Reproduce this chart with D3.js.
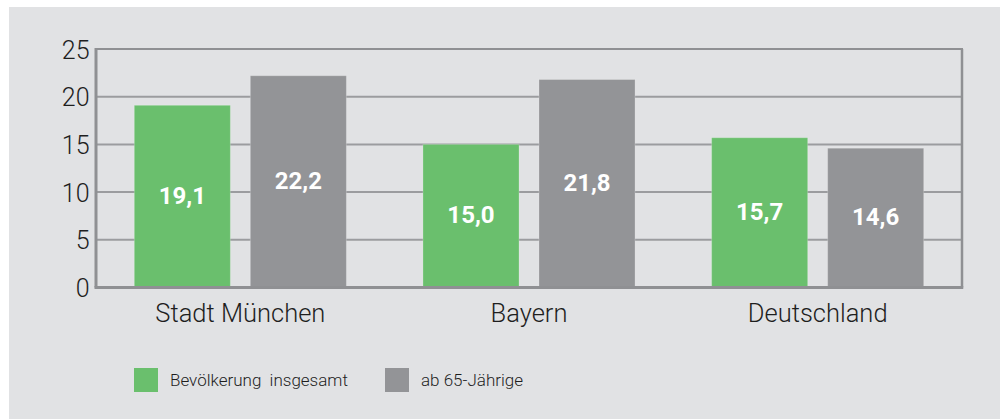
<!DOCTYPE html>
<html>
<head>
<meta charset="utf-8">
<script src="https://cdn.jsdelivr.net/npm/d3@7"></script>
<style>
  html, body { margin: 0; padding: 0; background: #ffffff; }
  svg { display: block; }
</style>
</head>
<body>
<svg id="chart" width="1008" height="419"></svg>
<script>
const categories = ["Stadt München", "Bayern", "Deutschland"];
const seriesNames = ["Bevölkerung  insgesamt", "ab 65-Jährige"];
const valuesTotal = [19.1, 15.0, 15.7];
const valuesSenior = [22.2, 21.8, 14.6];
const valueLabels = [["19,1", "22,2"], ["15,0", "21,8"], ["15,7", "14,6"]];
const yTicks = [0, 5, 10, 15, 20, 25];
const colors = ["#6abf6d", "#939497"];

const svg = d3.select("#chart");
const W = 1008, H = 419;
const lightFont = "Roboto, 'Liberation Sans', Arial, sans-serif";

// panel background
svg.append("rect").attr("x", 9).attr("y", 7).attr("width", 991).attr("height", H - 7).attr("fill", "#e1e2e4");

const plot = { left: 96, right: 962, top: 49, bottom: 287.5 };

const x = d3.scaleBand().domain(categories).range([plot.left, plot.right]).paddingInner(0).paddingOuter(0);
const xs = d3.scaleBand().domain(seriesNames).range([0, x.bandwidth()]).paddingInner(0.172).paddingOuter(0.33);
const y = d3.scaleLinear().domain([0, 25]).range([plot.bottom, plot.top]);

// gridlines
svg.append("g").selectAll("line").data(yTicks.filter(t => t > 0 && t < 25)).join("line")
  .attr("x1", plot.left).attr("x2", plot.right)
  .attr("y1", d => y(d)).attr("y2", d => y(d))
  .attr("stroke", "#9b9c9f").attr("stroke-width", 2);

// bars
const data = categories.map((c, i) => ({ cat: c, vals: [valuesTotal[i], valuesSenior[i]], labels: valueLabels[i] }));
const groups = svg.append("g").selectAll("g").data(data).join("g")
  .attr("transform", d => `translate(${x(d.cat)},0)`);

groups.selectAll("rect").data(d => d.vals.map((v, j) => ({ s: seriesNames[j], v, j }))).join("rect")
  .attr("x", d => xs(d.s))
  .attr("width", xs.bandwidth())
  .attr("y", d => y(d.v))
  .attr("height", d => y(0) - y(d.v))
  .attr("fill", d => colors[d.j])
  .attr("stroke", "rgba(255,255,255,0.22)")
  .attr("stroke-width", 1);

groups.selectAll("text").data(d => d.vals.map((v, j) => ({ s: seriesNames[j], v, j, l: d.labels[j] }))).join("text")
  .attr("x", d => xs(d.s) + xs.bandwidth() / 2)
  .attr("y", d => (y(d.v) + y(0)) / 2)
  .attr("dy", "0.3em")
  .attr("text-anchor", "middle")
  .attr("fill", "#ffffff")
  .attr("font-family", "Roboto, 'Liberation Sans', sans-serif")
  .attr("font-weight", 700)
  .attr("font-size", 24)
  .text(d => d.l);

// frame: top and right thin, left and bottom thicker
svg.append("line").attr("x1", plot.left).attr("x2", plot.right + 1).attr("y1", plot.top).attr("y2", plot.top)
  .attr("stroke", "#8f9093").attr("stroke-width", 2);
svg.append("line").attr("x1", plot.right).attr("x2", plot.right).attr("y1", plot.top).attr("y2", plot.bottom)
  .attr("stroke", "#8f9093").attr("stroke-width", 2.5);
svg.append("line").attr("x1", plot.left).attr("x2", plot.left).attr("y1", plot.top - 1).attr("y2", plot.bottom)
  .attr("stroke", "#8f9093").attr("stroke-width", 3);
svg.append("line").attr("x1", plot.left - 1.5).attr("x2", plot.right + 1.25).attr("y1", plot.bottom).attr("y2", plot.bottom)
  .attr("stroke", "#8f9093").attr("stroke-width", 3);

// y axis labels
const yAxis = d3.axisLeft(y).tickValues(yTicks).tickSize(0).tickPadding(6).tickFormat(d3.format("d"));
const gy = svg.append("g").attr("transform", `translate(${plot.left - 0.5},0)`).call(yAxis);
gy.select(".domain").remove();
gy.selectAll("text").attr("font-family", lightFont).attr("font-weight", 300).attr("font-size", 25).attr("fill", "#1e1e1e").attr("dy", "0.36em");

// x axis labels
const xAxis = d3.axisBottom(x).tickSize(0).tickPadding(16);
const gx = svg.append("g").attr("transform", `translate(0,${plot.bottom})`).call(xAxis);
gx.select(".domain").remove();
gx.selectAll("text").attr("font-family", lightFont).attr("font-weight", 300).attr("font-size", 25.5).attr("fill", "#1e1e1e");

// legend
const legendX = [134, 385];
const legend = svg.append("g").selectAll("g").data(seriesNames).join("g")
  .attr("transform", (d, i) => `translate(${legendX[i]},368)`);
legend.append("rect").attr("width", 24).attr("height", 24).attr("fill", (d, i) => colors[i]);
legend.append("text").attr("x", 36).attr("y", 12).attr("dy", "0.35em")
  .attr("font-family", lightFont).attr("font-weight", 300).attr("font-size", 17).attr("fill", "#1e1e1e")
  .attr("xml:space", "preserve").style("white-space", "pre")
  .text(d => d);
</script>
</body>
</html>
